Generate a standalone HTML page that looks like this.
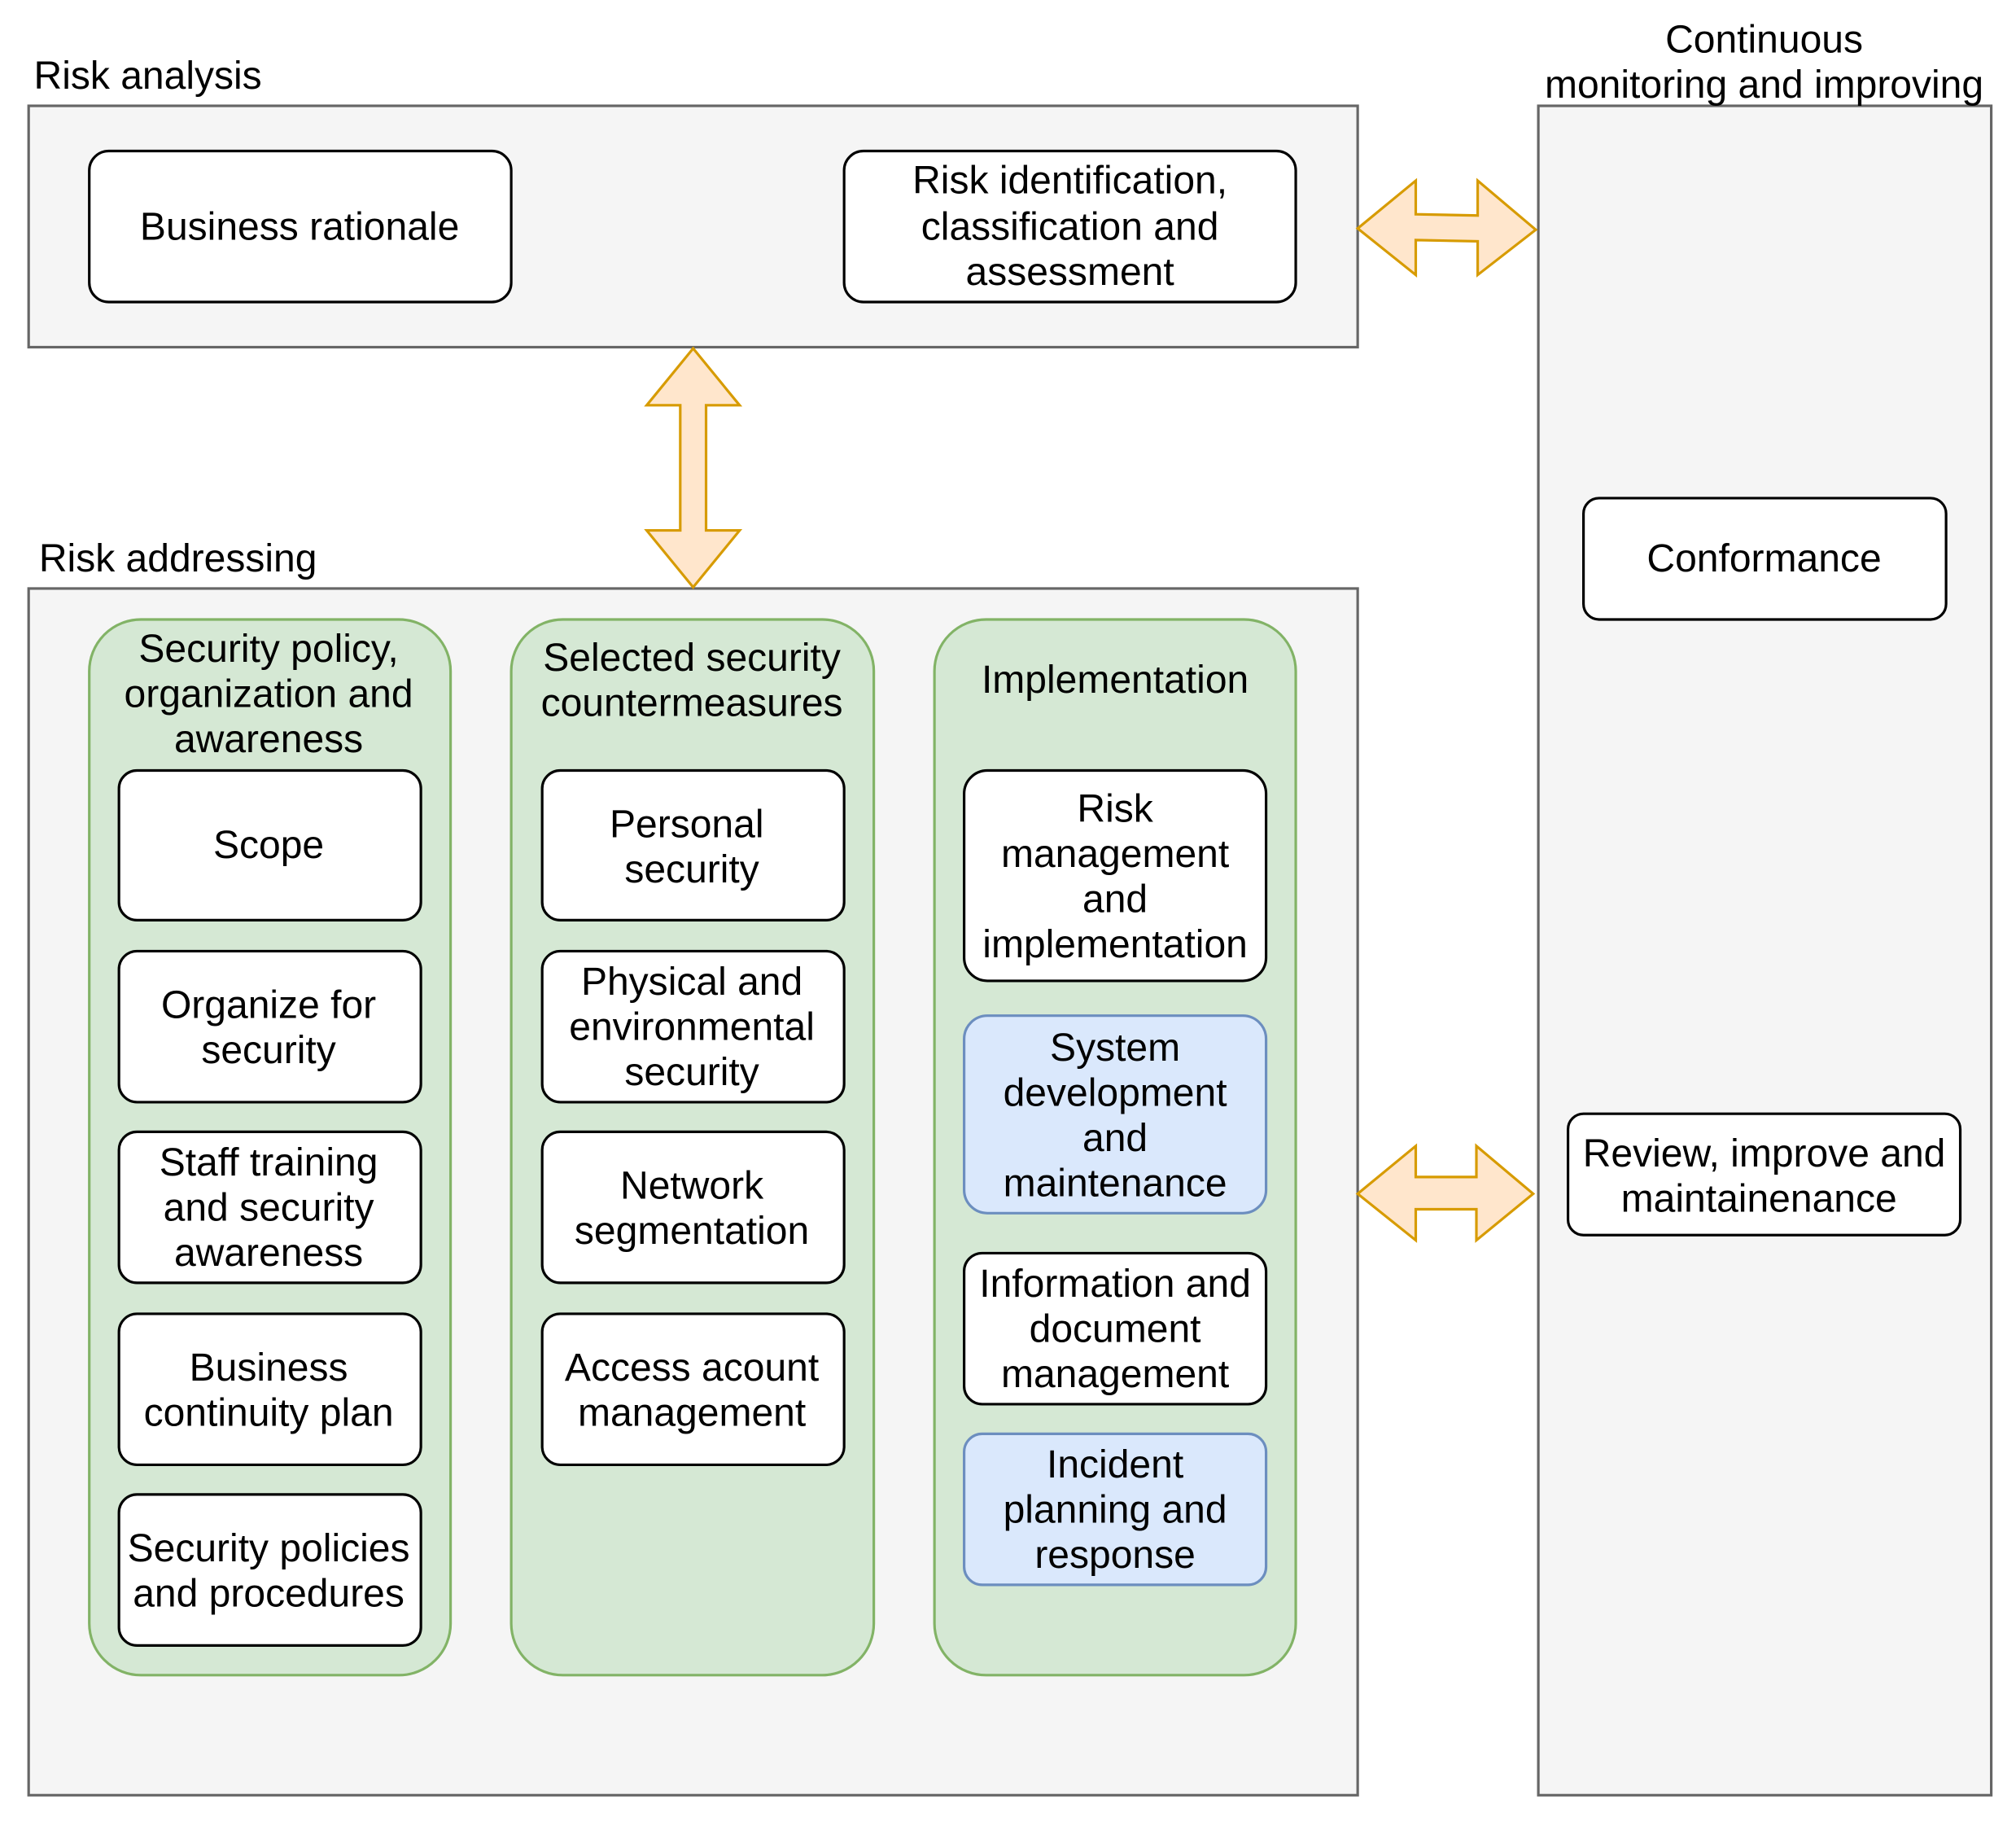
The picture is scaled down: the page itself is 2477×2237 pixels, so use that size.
<!DOCTYPE html>
<html><head><meta charset="utf-8"><style>html,body{margin:0;padding:0;background:#fff}svg{display:block}text{font-family:"Liberation Sans",Arial,sans-serif;font-size:30.3px;fill:#000;text-anchor:middle;dominant-baseline:central}</style></head>
<body>
<svg width="2477" height="2237" viewBox="0 0 1562 1411" xmlns="http://www.w3.org/2000/svg">
<rect x="0" y="0" width="1562" height="1411" fill="#fff"/>
<rect x="22" y="82" width="1030" height="187" fill="#f5f5f5" stroke="#666" stroke-width="2"/>
<rect x="22" y="456" width="1030" height="935" fill="#f5f5f5" stroke="#666" stroke-width="2"/>
<rect x="1192" y="82" width="351" height="1309" fill="#f5f5f5" stroke="#666" stroke-width="2"/>
<text x="26" y="59" style="text-anchor:start">Risk analysis</text>
<text x="30" y="433" style="text-anchor:start">Risk addressing</text>
<text x="1367" y="31">Continuous</text>
<text x="1367" y="66">monitoring and improving</text>
<rect x="69" y="117" width="327" height="117" rx="15" fill="#fff" stroke="#000" stroke-width="2"/>
<text x="232" y="176">Business rationale</text>
<rect x="654" y="117" width="350" height="117" rx="15" fill="#fff" stroke="#000" stroke-width="2"/>
<text x="829" y="140">Risk identification,</text>
<text x="829" y="176">classification and</text>
<text x="829" y="211">assessment</text>
<rect x="1227" y="386" width="281" height="94" rx="12" fill="#fff" stroke="#000" stroke-width="2"/>
<text x="1367" y="433">Conformance</text>
<rect x="1215" y="863" width="304" height="94" rx="12" fill="#fff" stroke="#000" stroke-width="2"/>
<text x="1367" y="894">Review, improve and</text>
<text x="1363" y="929">maintainenance</text>
<polygon points="1052,177 1097,140 1097,166 1145,167 1145,140 1190,178 1145,213 1145,187 1097,186 1097,213" fill="#ffe6cc" stroke="#d79b00" stroke-width="2"/>
<polygon points="537,270 573,314 547,314 547,411 573,411 537,455 501,411 527,411 527,314 501,314" fill="#ffe6cc" stroke="#d79b00" stroke-width="2"/>
<polygon points="1052,925 1097,888 1097,912 1144,912 1144,888 1188,925 1144,961 1144,937 1097,937 1097,961" fill="#ffe6cc" stroke="#d79b00" stroke-width="2"/>
<rect x="69" y="480" width="280" height="818" rx="40" fill="#d5e8d4" stroke="#82b366" stroke-width="2"/>
<rect x="396" y="480" width="281" height="818" rx="40" fill="#d5e8d4" stroke="#82b366" stroke-width="2"/>
<rect x="724" y="480" width="280" height="818" rx="40" fill="#d5e8d4" stroke="#82b366" stroke-width="2"/>
<text x="208" y="503">Security policy,</text>
<text x="208" y="538">organization and</text>
<text x="208" y="573">awareness</text>
<text x="536" y="510">Selected security</text>
<text x="536" y="545">countermeasures</text>
<text x="864" y="527">Implementation</text>
<g fill="#fff" stroke="#000" stroke-width="2">
<rect x="92" y="597" width="234" height="116" rx="14"/>
<rect x="92" y="737" width="234" height="117" rx="14"/>
<rect x="92" y="877" width="234" height="117" rx="14"/>
<rect x="92" y="1018" width="234" height="117" rx="14"/>
<rect x="92" y="1158" width="234" height="117" rx="14"/>
<rect x="420" y="597" width="234" height="116" rx="14"/>
<rect x="420" y="737" width="234" height="117" rx="14"/>
<rect x="420" y="877" width="234" height="117" rx="14"/>
<rect x="420" y="1018" width="234" height="117" rx="14"/>
<rect x="747" y="597" width="234" height="163" rx="18"/>
<rect x="747" y="971" width="234" height="117" rx="14"/>
</g>
<g fill="#dae8fc" stroke="#6c8ebf" stroke-width="2">
<rect x="747" y="787" width="234" height="153" rx="18"/>
<rect x="747" y="1111" width="234" height="117" rx="14"/>
</g>
<text x="208" y="655">Scope</text>
<text x="208" y="779">Organize for</text>
<text x="208" y="814">security</text>
<text x="208" y="901">Staff training</text>
<text x="208" y="936">and security</text>
<text x="208" y="971">awareness</text>
<text x="208" y="1060">Business</text>
<text x="208" y="1095">continuity plan</text>
<text x="208" y="1200">Security policies</text>
<text x="208" y="1235">and procedures</text>
<text x="532" y="639">Personal</text>
<text x="536" y="674">security</text>
<text x="536" y="761">Physical and</text>
<text x="536" y="796">environmental</text>
<text x="536" y="831">security</text>
<text x="536" y="919">Network</text>
<text x="536" y="954">segmentation</text>
<text x="536" y="1060">Access acount</text>
<text x="536" y="1095">management</text>
<text x="864" y="627">Risk</text>
<text x="864" y="662">management</text>
<text x="864" y="697">and</text>
<text x="864" y="732">implementation</text>
<text x="864" y="812">System</text>
<text x="864" y="847">development</text>
<text x="864" y="882">and</text>
<text x="864" y="917">maintenance</text>
<text x="864" y="995">Information and</text>
<text x="864" y="1030">document</text>
<text x="864" y="1065">management</text>
<text x="864" y="1135">Incident</text>
<text x="864" y="1170">planning and</text>
<text x="864" y="1205">response</text>
</svg>
</body></html>
